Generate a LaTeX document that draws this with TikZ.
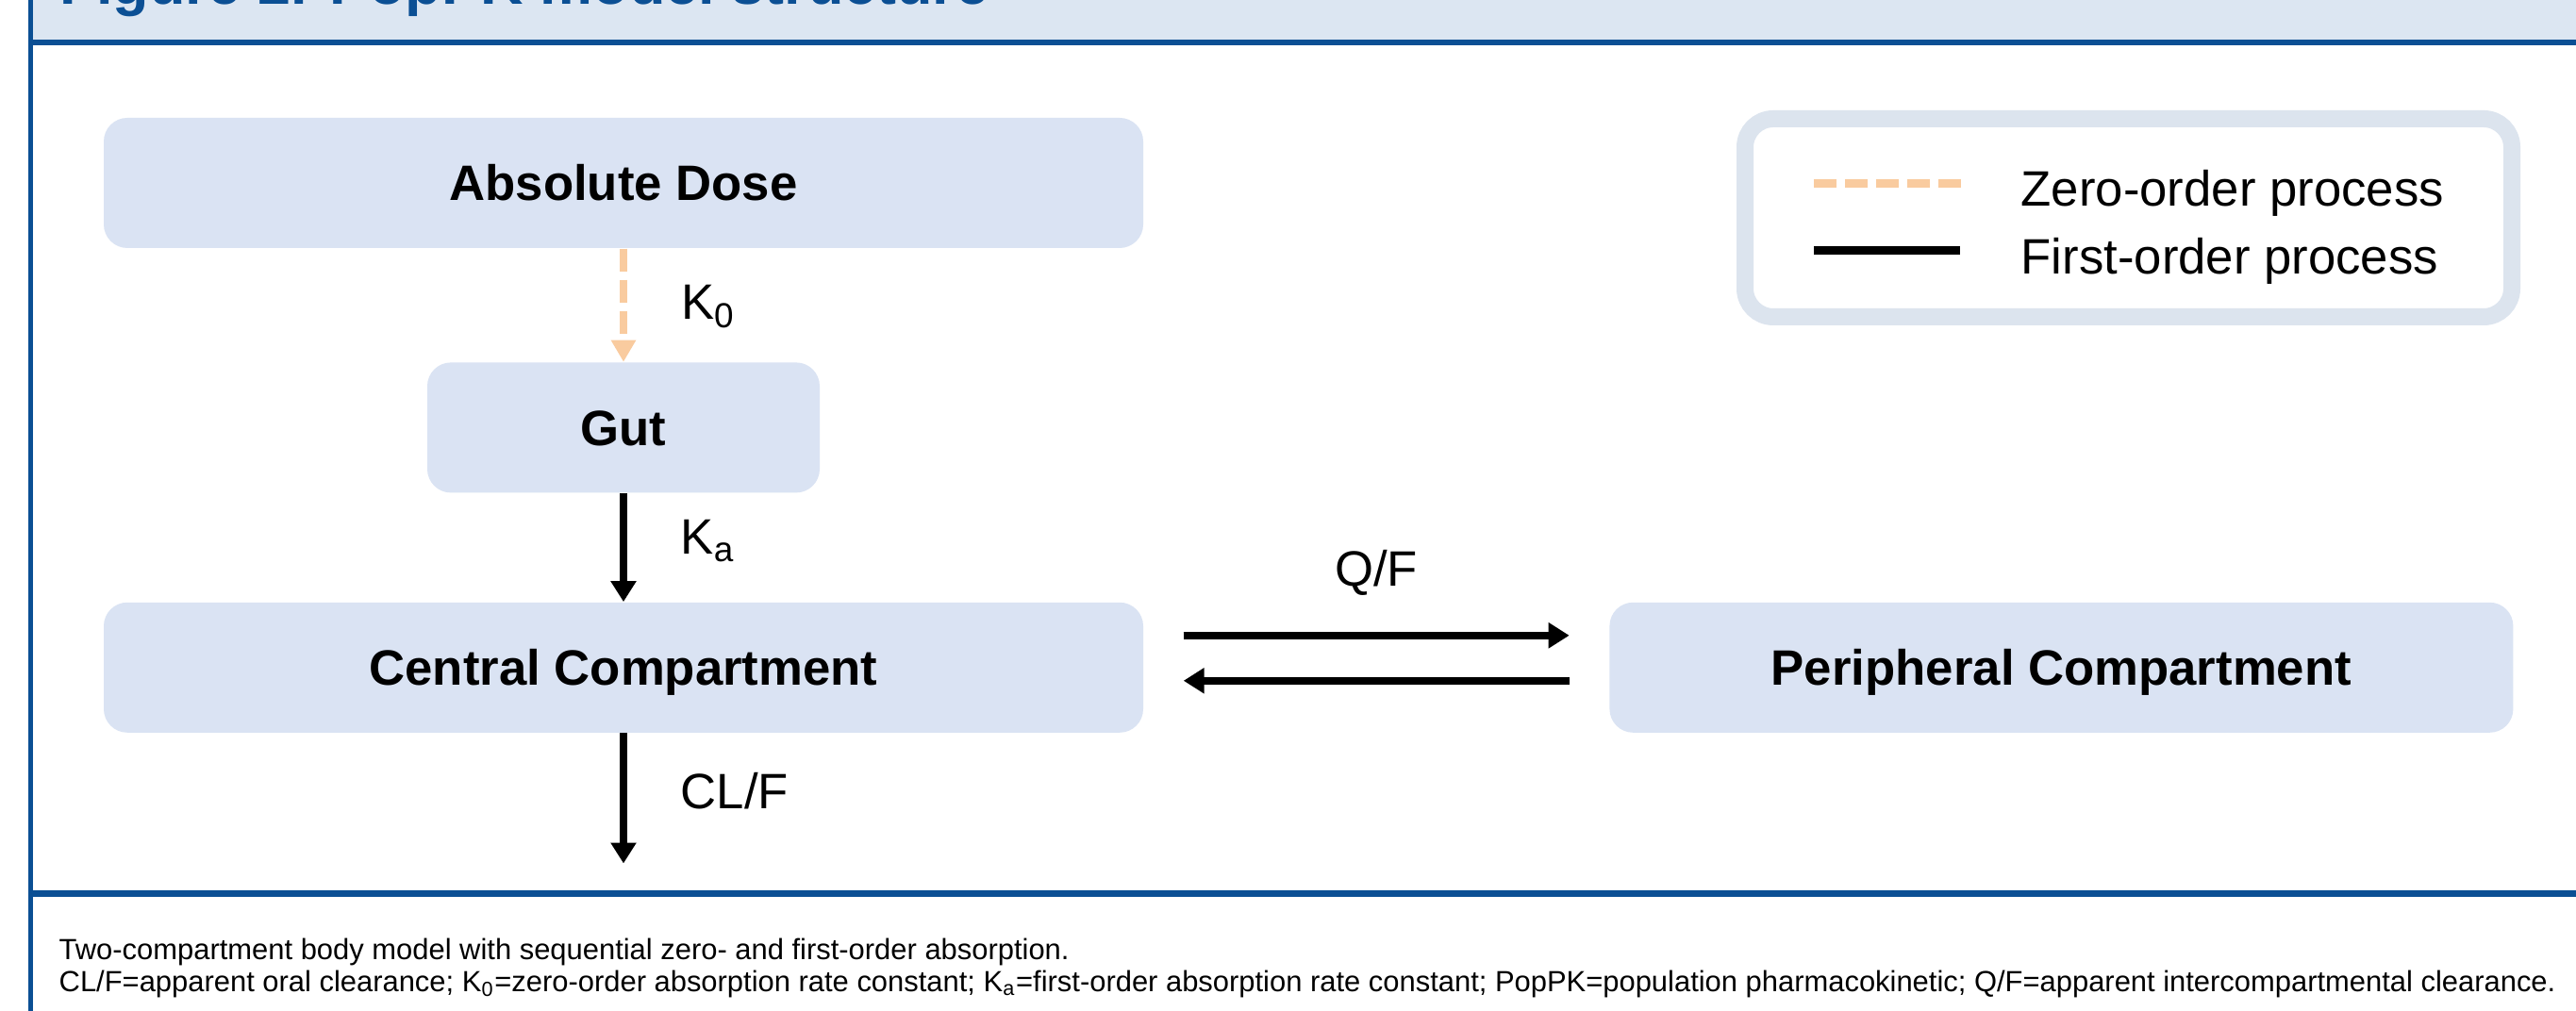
\documentclass[tikz,border=0pt]{standalone}
\usepackage{fontspec}
\setmainfont{Liberation Sans}
\usepackage{tikz}
\usetikzlibrary{arrows.meta,positioning,calc}
\definecolor{pkblue}{HTML}{0B4F94}
\definecolor{pkhead}{HTML}{DCE6F2}
\definecolor{pkbox}{HTML}{DAE3F3}
\definecolor{pkframe}{HTML}{DCE4EE}
\definecolor{pkpeach}{HTML}{F9CB9F}
\tikzset{
  cmpbox/.style    = {rectangle, fill=pkbox, rounded corners=0.25cm, inner sep=0pt,
                       minimum height=1.38cm, text height=0.38cm, text depth=0pt,
                       font=\fontsize{15}{18}\selectfont\bfseries},
  firstarrow/.style = {-{Triangle[length=0.22cm,width=0.26cm]}, line width=0.075cm, black},
  zeroarrow/.style  = {-{Triangle[length=0.23cm,width=0.25cm]}, line width=0.08cm, pkpeach,
                       dash pattern=on 0.24cm off 0.09cm},
  ratelbl/.style   = {text=black, inner sep=0pt, text height=0.38cm, text depth=0pt,
                       font=\fontsize{15}{18}\selectfont},
  lgdframe/.style  = {rectangle, draw=pkframe, line width=0.18cm, fill=white, rounded corners=0.3cm},
  lgdtext/.style   = {inner sep=0pt, anchor=base west, font=\fontsize{15}{18}\selectfont},
  capline/.style   = {inner sep=0pt, anchor=base west, font=\fontsize{8.8}{10}\selectfont},
  bluerule/.style  = {draw=pkblue, line width=0.065cm},
}
\begin{document}
\begin{tikzpicture}
\useasboundingbox (0,0) rectangle (27.31,10.72);
\clip (0,0) rectangle (27.31,10.72);
\fill[white] (0,0) rectangle (27.31,10.72);

% Header band with title
\fill[pkhead] (0.35,10.27) rectangle (27.31,11.5);
\node[inner sep=0pt, anchor=base west, text=pkblue, font=\fontsize{17.9}{20}\selectfont\bfseries]
  (title) at (0.63,10.67) {Figure 2. PopPK model structure};
\draw[bluerule] (0.30,10.27) -- (27.31,10.27);
\draw[bluerule, line width=0.07cm] (0.30,1.245) -- (27.31,1.245);
\draw[bluerule, line width=0.055cm] (0.325,0) -- (0.325,10.72);

% Compartments
\node[cmpbox, minimum width=11.02cm] (dose) at (6.61,8.78) {Absolute Dose};
\node[cmpbox, minimum width=4.16cm, below=1.2cm of dose] (gut) {Gut};
\node[cmpbox, minimum width=11.02cm, below=1.15cm of gut] (central) {Central Compartment};
\node[cmpbox, minimum width=9.58cm, right=4.93cm of central] (periph) {Peripheral Compartment};
\coordinate (elim) at ($(central.south)+(0,-1.38)$);

% Absorption and elimination
\draw[zeroarrow] (dose.south) -- node[ratelbl, anchor=west, xshift=0.57cm, yshift=0.04cm] (k0) {K\textsubscript{0}} (gut.north);
\draw[firstarrow] (gut.south) -- node[ratelbl, anchor=west, xshift=0.57cm, yshift=0.12cm] (ka) {K\textsubscript{a}} (central.north);
\draw[firstarrow] (central.south) -- node[ratelbl, anchor=west, xshift=0.57cm, yshift=0.08cm] (clf) {CL/F} (elim);

% Distribution
\draw[firstarrow] ([xshift=0.42cm, yshift=0.34cm]central.east) -- node[ratelbl, above=0.49cm] (qf) {Q/F} ([xshift=-0.42cm, yshift=0.34cm]periph.west);
\draw[firstarrow] ([xshift=-0.42cm, yshift=-0.14cm]periph.west) -- ([xshift=0.42cm, yshift=-0.14cm]central.east);

% Legend
\node[lgdframe, minimum width=8.13cm, minimum height=2.10cm] (legend) at (22.565,8.41) {};
\coordinate (zs) at (19.23,8.77);
\coordinate (fs) at (19.23,8.06);
\draw[pkpeach, line width=0.09cm, dash pattern=on 0.24cm off 0.09cm] (zs) -- ++(1.56,0);
\draw[black, line width=0.09cm] (fs) -- ++(1.55,0);
\node[lgdtext] (zlab) at (21.42,8.53) {Zero-order process};
\node[lgdtext] (flab) at (21.42,7.81) {First-order process};

% Footnote
\node[capline] (capa) at (0.62,0.54) {Two-compartment body model with sequential zero- and first-order absorption.};
\node[capline] (capb) at ([yshift=-0.34cm]capa.base west) {CL/F=apparent oral clearance; K\textsubscript{0}=zero-order absorption rate constant; K\textsubscript{a}=first-order absorption rate constant; PopPK=population pharmacokinetic; Q/F=apparent intercompartmental clearance.};
\end{tikzpicture}
\end{document}
